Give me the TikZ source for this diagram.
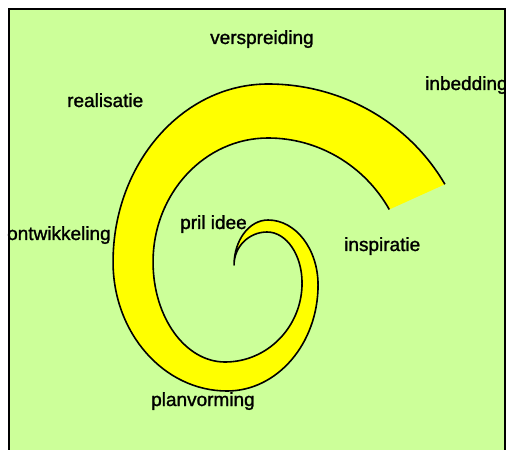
\documentclass[tikz,border=0pt]{standalone}
\usepackage{fontspec}
\setmainfont{Liberation Sans}
\newfontfamily\phasefont{Liberation Sans}[FakeBold=1.3]
\usepackage{xcolor}
\usepackage{tikz}
\definecolor{bggreen}{RGB}{204,255,153}
\definecolor{bandyellow}{RGB}{255,255,0}

\begin{document}
\begin{tikzpicture}[
    x=1bp, y=-1bp,
    every node/.style={font=\phasefont\fontsize{19bp}{22bp}\selectfont},
    phase/.style={anchor=base west, inner sep=0pt},
    band/.style={draw=black, line width=1.6bp, fill=bandyellow, line join=round}
]
\useasboundingbox (0,0) rectangle (506,450);

% background panel
\fill[bggreen] (9,9) rectangle (505,450);
\draw[line width=1.2bp] (9,450) |- (505,9) -- (505,450);

% spiral band: outer edge in to the tip, inner edge back out
\coordinate (mouth) at (444.9,184.3);
\draw[band] (mouth)
    arc[start angle=-29.4, end angle=-90, x radius=203, y radius=197]
    arc[start angle=-90, end angle=-180, x radius=155, y radius=178]
    arc[start angle=180, end angle=90, x radius=114, y radius=129]
    arc[start angle=90, end angle=0, x radius=91, y radius=106]
    arc[start angle=0, end angle=-90, x radius=50, y radius=65]
    arc[start angle=-90, end angle=-180, x radius=34, y radius=45]
    % tip, back along the inner edge
    arc[start angle=180, end angle=270, x radius=33, y radius=33]
    arc[start angle=270, end angle=360, x radius=35, y radius=51]
    arc[start angle=0, end angle=90, x radius=77, y radius=79]
    arc[start angle=90, end angle=180, x radius=72, y radius=100]
    arc[start angle=180, end angle=270, x radius=115, y radius=124]
    arc[start angle=270, end angle=330, x radius=140, y radius=143];

% Labels
\node[phase] (verspreiding) at (210,44) {verspreiding};
\node[phase] (inbedding)    at (425,90) {inbedding};
\node[phase] (realisatie)   at (67,107) {realisatie};
\node[phase] (ontwikkeling) at (7,240) {ontwikkeling};
\node[phase] (prilidee)     at (180,229) {pril idee};
\node[phase] (inspiratie)   at (344,251) {inspiratie};
\node[phase] (planvorming)  at (151,406) {planvorming};

\end{tikzpicture}
\end{document}
